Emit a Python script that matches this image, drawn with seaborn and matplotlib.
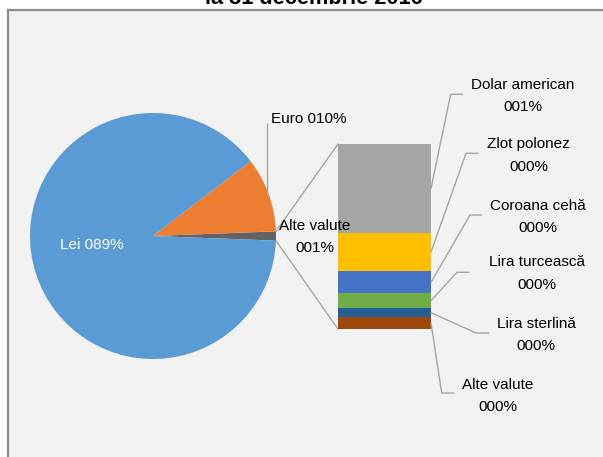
import matplotlib
matplotlib.use("Agg")
import matplotlib.pyplot as plt
import seaborn as sns
import numpy as np
from matplotlib.lines import Line2D
from matplotlib.patches import Rectangle, ConnectionPatch
from matplotlib.transforms import IdentityTransform

# ---------------- data ----------------
pie_labels = ["Alte valute", "Euro", "Lei"]
pie_values = [1.2, 9.8, 89.0]
pie_texts = ["Alte valute\n001%", "Euro 010%", "Lei 089%"]
pie_colors = ["#636363", "#ED7D31", "#5B9BD5"]

bar_labels = ["Alte valute", "Lira sterlină", "Lira turcească",
              "Coroana cehă", "Zlot polonez", "Dolar american"]
bar_values = [0.076, 0.060, 0.095, 0.143, 0.250, 0.576]
bar_texts = ["000%", "000%", "000%", "000%", "000%", "001%"]
bar_colors = ["#9E480E", "#255E91", "#70AD47", "#4472C4", "#FFC000", "#A5A5A5"]

title = "la 31 decembrie 2016"

# ---------------- figure ----------------
sns.set_theme(style="white")
plt.rcParams["font.family"] = ["Liberation Sans", "DejaVu Sans"]

W, H = 603, 457
fig = plt.figure(figsize=(W / 100, H / 100), dpi=100)
fig.patch.set_facecolor("white")

def px(x, y):
    """image pixel (y down) -> display coords"""
    return (x, H - y)

# chart area frame
bg = Rectangle((7.5, -5), 700, H - 9.5 + 5, transform=IdentityTransform(),
               facecolor="#F2F2F2", edgecolor="#8C8C8C", linewidth=1.6, zorder=-5)
fig.patches.append(bg)

# title (partly cut off at the top, as in the reference)
fig.text(314 / W, (H - 4) / H, title, ha="center", va="baseline",
         fontsize=15.7, fontweight="bold", color="black")

# ---------------- pie ----------------
cx, cy, r = 153, 236, 123
ax_pie = fig.add_axes([(cx - r) / W, (H - cy - r) / H, 2 * r / W, 2 * r / H])
ax_pie.set_zorder(2)
total_pie = sum(pie_values)
start = -pie_values[0] / total_pie * 360 / 2
wedges, _ = ax_pie.pie(pie_values, colors=pie_colors, startangle=start,
                       counterclock=True, radius=1,
                       wedgeprops=dict(linewidth=0))
ax_pie.set_xlim(-1, 1)
ax_pie.set_ylim(-1, 1)
ax_pie.set_aspect("equal")
ax_pie.axis("off")

# ---------------- stacked bar ----------------
bx0, bx1, by0, by1 = 338, 431, 144, 329
ax_bar = fig.add_axes([bx0 / W, (H - by1) / H, (bx1 - bx0) / W, (by1 - by0) / H])
ax_bar.set_zorder(2)
bottoms = np.concatenate([[0], np.cumsum(bar_values)[:-1]])
ax_bar.bar([0] * len(bar_values), bar_values, bottom=bottoms, width=1.0,
           color=bar_colors, linewidth=0)
bar_total = sum(bar_values)
ax_bar.set_xlim(-0.5, 0.5)
ax_bar.set_ylim(0, bar_total)
ax_bar.axis("off")

line_col = "#A6A6A6"

# connector lines pie -> bar
a1 = np.deg2rad(wedges[0].theta2)
a2 = np.deg2rad(wedges[0].theta1)
for ang, yb in [(a1, bar_total), (a2, 0)]:
    con = ConnectionPatch(xyA=(np.cos(ang), np.sin(ang)), coordsA=ax_pie.transData,
                          xyB=(-0.5, yb), coordsB=ax_bar.transData,
                          color=line_col, linewidth=1.0, zorder=1)
    fig.add_artist(con)

# pie labels
ax_pie.text(-0.5, -0.07, pie_texts[2], color="white", fontsize=11,
            ha="center", va="center")
# Euro label with leader line
mid_e = np.deg2rad((wedges[1].theta1 + wedges[1].theta2) / 2)
sx, sy = ax_pie.transData.transform((np.cos(mid_e) * 0.99, np.sin(mid_e) * 0.99))
fig.add_artist(Line2D([sx, 267.5], [sy, H - 124], transform=IdentityTransform(),
                      color=line_col, linewidth=1.0, zorder=3))
fig.text(309 / W, (H - 119) / H, pie_texts[1], fontsize=11, ha="center",
         va="center", color="black", zorder=4)
fig.text(314.5 / W, (H - 237) / H, pie_texts[0], fontsize=11, ha="center",
         va="center", color="black", linespacing=1.75, zorder=4)

# bar labels (layout positions in image pixels)
elbows = [(441.7, 393), (476, 333), (457, 272.3), (470, 215), (466, 153.3), (450.7, 94.3)]
ends = [(454, 393), (488.7, 333), (469, 272.3), (481.7, 215), (478, 153.3), (462.7, 94.3)]
text_pos = [(497.5, 396), (536, 335), (536.7, 273.5), (537.5, 216.7), (528.7, 155.5), (522.8, 96)]

for i, (lab, val, b) in enumerate(zip(bar_labels, bar_values, bottoms)):
    s = ax_bar.transData.transform((0.5, b + val / 2))
    e1 = px(*elbows[i])
    e2 = px(*ends[i])
    fig.add_artist(Line2D([s[0], e1[0], e2[0]], [s[1], e1[1], e2[1]],
                          transform=IdentityTransform(), color=line_col,
                          linewidth=1.0, zorder=3))
    tx, ty = text_pos[i]
    fig.text(tx / W, (H - ty) / H, f"{lab}\n{bar_texts[i]}", fontsize=11,
             ha="center", va="center", multialignment="center",
             linespacing=1.75, color="black", zorder=4)

fig.savefig("out.png", dpi=100)
